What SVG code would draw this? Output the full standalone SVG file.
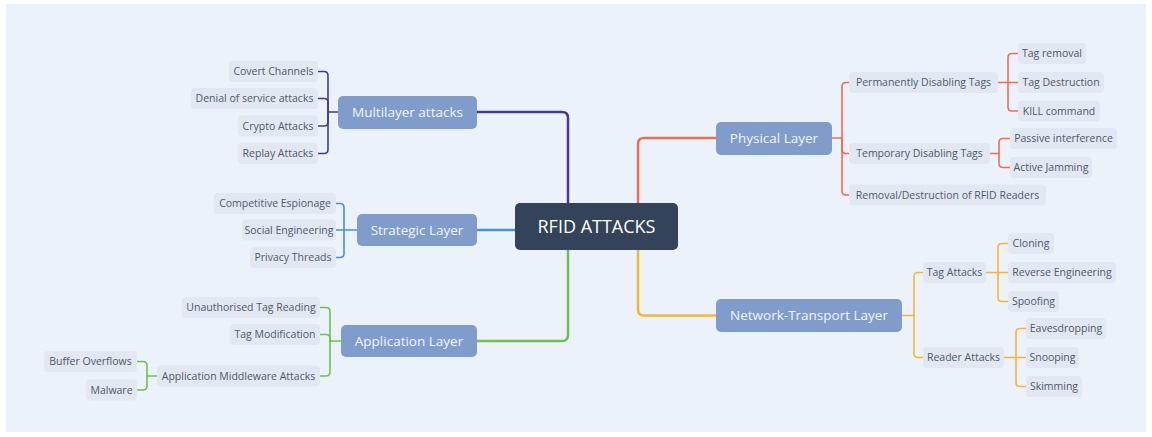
<svg xmlns="http://www.w3.org/2000/svg" width="1152" height="437" viewBox="0 0 1152 437">
<style>
.lbl{font-family:"Open Sans","Liberation Sans",sans-serif;}
.root rect{fill:#344359;}
.root text{fill:#FFFFFF;font-size:18px;text-anchor:middle;}
.main rect{fill:#7F9CCA;}
.main text{fill:#F2F5FA;font-size:13.5px;text-anchor:middle;}
.leaf rect{fill:#E1E8F1;}
.leaf text{fill:#4E596A;font-size:10.5px;text-anchor:middle;}
.c{fill:none;stroke-linecap:round;stroke-linejoin:round;}
.big{stroke-width:2.5;}
.sm{stroke-width:1.6;}
.pu{stroke:#45389A;}
.rd{stroke:#F36C52;}
.bl{stroke:#4A8FDB;}
.gr{stroke:#6CC24D;}
.or{stroke:#F6B72D;}
</style>
<rect x="0" y="0" width="1152" height="437" fill="#FFFFFF"/>
<rect x="6" y="4" width="1140" height="428" fill="#ECF2F9"/>
<g id="connectors">
<path class="c big pu" d="M568,203 V118 Q568,112 562,112 H477"/>
<path class="c big rd" d="M638,203 V144 Q638,138 644,138 H716"/>
<path class="c big bl" d="M515,230 H477"/>
<path class="c big gr" d="M568,250 V335 Q568,341 562,341 H477"/>
<path class="c big or" d="M638,250 V309.5 Q638,315.5 644,315.5 H716"/>
<g class="c sm pu">
<path d="M338,112 H328 V75.5 Q328,71.5 324,71.5 H318"/>
<path d="M328,112 V102.5 Q328,98.5 324,98.5 H318"/>
<path d="M328,112 V122 Q328,126 324,126 H318"/>
<path d="M328,112 V149.5 Q328,153.5 324,153.5 H318"/>
</g>
<g class="c sm bl">
<path d="M357,230 H344 V207.5 Q344,203.5 340,203.5 H336"/>
<path d="M344,230 H336"/>
<path d="M344,230 V253.5 Q344,257.5 340,257.5 H336"/>
</g>
<g class="c sm gr">
<path d="M341,341 H330 V311.5 Q330,307.5 326,307.5 H320"/>
<path d="M330,341 V338.5 Q330,334.5 326,334.5 H320"/>
<path d="M330,341 V372 Q330,376 326,376 H320"/>
<path d="M157,376 H147 V365.5 Q147,361.5 143,361.5 H137"/>
<path d="M147,376 V386 Q147,390 143,390 H137"/>
</g>
<g class="c sm rd">
<path d="M832,138 H842 V86.5 Q842,82.5 846,82.5 H849"/>
<path d="M842,138 V149.5 Q842,153.5 846,153.5 H849"/>
<path d="M842,138 V191 Q842,195 846,195 H849"/>
<path d="M998,82.5 H1008 V57.5 Q1008,53.5 1012,53.5 H1018"/>
<path d="M1008,82.5 H1018"/>
<path d="M1008,82.5 V107 Q1008,111 1012,111 H1018"/>
<path d="M990,153.5 H999 V142.5 Q999,138.5 1003,138.5 H1010"/>
<path d="M999,153.5 V163.5 Q999,167.5 1003,167.5 H1010"/>
</g>
<g class="c sm or">
<path d="M902,315.5 H914 V276.5 Q914,272.5 918,272.5 H923"/>
<path d="M914,315.5 V353.5 Q914,357.5 918,357.5 H923"/>
<path d="M986,272.5 H998 V247.5 Q998,243.5 1002,243.5 H1008"/>
<path d="M998,272.5 H1008"/>
<path d="M998,272.5 V297.5 Q998,301.5 1002,301.5 H1008"/>
<path d="M1004,357.5 H1016 V332.5 Q1016,328.5 1020,328.5 H1026"/>
<path d="M1016,357.5 H1026"/>
<path d="M1016,357.5 V382.5 Q1016,386.5 1020,386.5 H1026"/>
</g>
</g>
<g id="root" class="root lbl"><rect x="515" y="203" width="163" height="47" rx="5"/><text x="596.5" y="233">RFID ATTACKS</text></g>
<g id="multilayer" class="main lbl"><rect x="338" y="96" width="139" height="33" rx="5"/><text x="407.5" y="117.3">Multilayer attacks</text></g>
<g id="strategic" class="main lbl"><rect x="357" y="214" width="120" height="32" rx="5"/><text x="417" y="234.8">Strategic Layer</text></g>
<g id="application" class="main lbl"><rect x="341" y="325" width="136" height="32" rx="5"/><text x="409" y="345.8">Application Layer</text></g>
<g id="physical" class="main lbl"><rect x="716" y="122" width="116" height="33" rx="5"/><text x="774" y="143.3">Physical Layer</text></g>
<g id="network" class="main lbl"><rect x="716" y="299" width="186" height="33" rx="5"/><text x="809" y="320.3">Network-Transport Layer</text></g>
<g id="covert" class="leaf lbl"><rect x="229" y="61" width="89" height="21" rx="4"/><text x="273.5" y="75.3">Covert Channels</text></g>
<g id="denial" class="leaf lbl"><rect x="191" y="88" width="127" height="21" rx="4"/><text x="254.5" y="102.3">Denial of service attacks</text></g>
<g id="crypto" class="leaf lbl"><rect x="238" y="115.5" width="80" height="21" rx="4"/><text x="278" y="129.8">Crypto Attacks</text></g>
<g id="replay" class="leaf lbl"><rect x="238" y="143" width="80" height="21" rx="4"/><text x="278" y="157.3">Replay Attacks</text></g>
<g id="competitive" class="leaf lbl"><rect x="214" y="193" width="122" height="21" rx="4"/><text x="275" y="207.3">Competitive Espionage</text></g>
<g id="social" class="leaf lbl"><rect x="242" y="219.5" width="94" height="21" rx="4"/><text x="289" y="233.8">Social Engineering</text></g>
<g id="privacy" class="leaf lbl"><rect x="250" y="247" width="86" height="21" rx="4"/><text x="293" y="261.3">Privacy Threads</text></g>
<g id="unauth" class="leaf lbl"><rect x="182" y="297" width="138" height="21" rx="4"/><text x="251" y="311.3">Unauthorised Tag Reading</text></g>
<g id="tagmod" class="leaf lbl"><rect x="230" y="324" width="90" height="21" rx="4"/><text x="275" y="338.3">Tag Modification</text></g>
<g id="middleware" class="leaf lbl"><rect x="157" y="365.5" width="163" height="21" rx="4"/><text x="238.5" y="379.8">Application Middleware Attacks</text></g>
<g id="buffer" class="leaf lbl"><rect x="44" y="351" width="93" height="21" rx="4"/><text x="90.5" y="365.3">Buffer Overflows</text></g>
<g id="malware" class="leaf lbl"><rect x="86" y="379.5" width="51" height="21" rx="4"/><text x="111.5" y="393.8">Malware</text></g>
<g id="permanent" class="leaf lbl"><rect x="849" y="72" width="149" height="21" rx="4"/><text x="923.5" y="86.3">Permanently Disabling Tags</text></g>
<g id="temporary" class="leaf lbl"><rect x="849" y="143" width="141" height="21" rx="4"/><text x="919.5" y="157.3">Temporary Disabling Tags</text></g>
<g id="removal" class="leaf lbl"><rect x="849" y="184.5" width="197" height="21" rx="4"/><text x="947.5" y="198.8">Removal/Destruction of RFID Readers</text></g>
<g id="tagremoval" class="leaf lbl"><rect x="1018" y="43" width="68" height="21" rx="4"/><text x="1052" y="57.3">Tag removal</text></g>
<g id="tagdestruction" class="leaf lbl"><rect x="1018" y="72" width="86" height="21" rx="4"/><text x="1061" y="86.3">Tag Destruction</text></g>
<g id="kill" class="leaf lbl"><rect x="1018" y="100.5" width="82" height="21" rx="4"/><text x="1059" y="114.8">KILL command</text></g>
<g id="passive" class="leaf lbl"><rect x="1010" y="128" width="107" height="21" rx="4"/><text x="1063.5" y="142.3">Passive interference</text></g>
<g id="active" class="leaf lbl"><rect x="1010" y="157" width="82" height="21" rx="4"/><text x="1051" y="171.3">Active Jamming</text></g>
<g id="tagattacks" class="leaf lbl"><rect x="923" y="262" width="63" height="21" rx="4"/><text x="954.5" y="276.3">Tag Attacks</text></g>
<g id="readerattacks" class="leaf lbl"><rect x="923" y="347" width="81" height="21" rx="4"/><text x="963.5" y="361.3">Reader Attacks</text></g>
<g id="cloning" class="leaf lbl"><rect x="1008" y="233" width="46" height="21" rx="4"/><text x="1031" y="247.3">Cloning</text></g>
<g id="reverse" class="leaf lbl"><rect x="1008" y="262" width="108" height="21" rx="4"/><text x="1062" y="276.3">Reverse Engineering</text></g>
<g id="spoofing" class="leaf lbl"><rect x="1008" y="291" width="51" height="21" rx="4"/><text x="1033.5" y="305.3">Spoofing</text></g>
<g id="eaves" class="leaf lbl"><rect x="1026" y="318" width="80" height="21" rx="4"/><text x="1066" y="332.3">Eavesdropping</text></g>
<g id="snooping" class="leaf lbl"><rect x="1026" y="347" width="53" height="21" rx="4"/><text x="1052.5" y="361.3">Snooping</text></g>
<g id="skimming" class="leaf lbl"><rect x="1026" y="376" width="56" height="21" rx="4"/><text x="1054" y="390.3">Skimming</text></g>
</svg>
